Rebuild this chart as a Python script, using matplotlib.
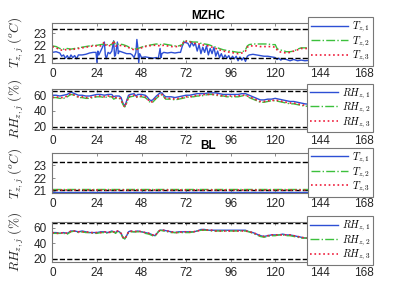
# -*- coding: utf-8 -*-
"""
Zone temperature and relative humidity over one week,
MZHC controller vs baseline (BL).
"""

import matplotlib
matplotlib.use('Agg')
import matplotlib.pyplot as plt

#%% DATA (hours from start of week)
### MZHC - zone temperatures
hours_t1 = [0, 2, 4, 5, 6, 7, 8, 9, 10, 11, 12, 13, 14, 16, 18, 20, 22, 23.5, 24, 24.5,
            25, 26, 27, 28, 28.5, 29, 30, 31, 32, 33, 33.5, 34, 35, 35.5, 36, 38, 40, 42, 43, 44,
            45, 45.5, 46, 46.5, 47, 48, 50, 52, 54, 56, 57, 58, 58.5, 59, 60, 62, 64, 66, 68, 69,
            70, 71, 72, 73, 74, 75, 76, 77, 78, 79, 80, 81, 82, 83, 84, 85, 86, 87, 88, 89,
            90, 91, 92, 93, 94, 95, 96, 97, 98, 99, 100, 101, 102, 103, 104, 105, 106, 108, 110, 112,
            114, 116, 118, 120, 121, 122, 123, 124, 126, 128, 130, 132, 134, 136, 140, 145, 150, 155, 160, 165, 168]
t1_mzhc = [21.5, 21.55, 21.45, 21.2, 21.3, 21.05, 21.25, 21.0, 21.3, 21.1, 21.25, 21.0, 21.3, 21.3, 21.35, 21.45, 21.5, 21.5, 20.7, 21.6,
           21.3, 21.6, 21.9, 22.3, 21.3, 21.0, 21.5, 21.4, 21.6, 22.4, 21.2, 21.3, 22.3, 21.4, 21.6, 21.5, 21.4, 21.4, 21.3, 21.1,
           21.5, 22.5, 21.9, 20.7, 21.4, 21.1, 21.15, 21.1, 21.05, 21.1, 21.0, 21.8, 21.1, 21.4, 21.5, 21.45, 21.5, 21.45, 21.5, 21.5,
           22.0, 22.3, 22.25, 22.2, 21.9, 22.3, 22.0, 22.2, 21.6, 22.1, 21.4, 21.9, 21.5, 22.0, 21.3, 21.8, 21.4, 21.9, 21.2, 21.6,
           21.1, 21.4, 21.0, 21.3, 21.05, 21.25, 20.95, 21.2, 21.0, 21.2, 20.85, 21.15, 20.9, 21.1, 20.8, 21.2, 21.3, 21.35, 21.3, 21.25,
           21.2, 21.2, 21.15, 21.1, 20.95, 21.05, 20.9, 21.0, 20.95, 20.85, 20.95, 20.85, 20.9, 20.85, 20.9, 20.8, 20.85, 20.8, 20.9, 20.85, 20.9]

hours_t23 = [0, 2, 4, 6, 8, 10, 12, 14, 16, 18, 20, 22, 24, 26, 28, 29, 30, 32, 33, 34,
             36, 38, 40, 42, 44, 46, 48, 50, 52, 54, 56, 58, 60, 62, 64, 66, 68, 70, 71, 72,
             74, 76, 78, 80, 82, 84, 86, 88, 90, 92, 94, 96, 98, 100, 102, 104, 105, 106, 108, 110,
             112, 114, 116, 118, 120, 121, 122, 124, 126, 128, 130, 132, 134, 136, 140, 150, 160, 168]
t2_mzhc = [22.0, 21.95, 21.8, 21.75, 21.8, 21.75, 21.8, 21.85, 21.9, 21.95, 22.0, 22.05, 22.05, 22.1, 22.15, 22.1, 22.1, 22.1, 22.35, 22.1,
           22.15, 22.1, 22.0, 21.85, 21.75, 21.8, 21.9, 22.0, 22.05, 22.1, 22.15, 22.1, 22.15, 22.1, 22.05, 22.0, 22.0, 22.1, 22.45, 22.4,
           22.35, 22.3, 22.3, 22.2, 22.15, 22.1, 22.0, 21.9, 21.8, 21.7, 21.65, 21.6, 21.55, 21.5, 21.5, 21.7, 22.0, 22.1, 22.15, 22.15,
           22.15, 22.15, 22.15, 22.1, 22.1, 21.8, 21.7, 21.65, 21.55, 21.55, 21.6, 21.75, 21.85, 21.85, 21.85, 21.8, 21.8, 21.8]
t3_mzhc = [21.95, 21.85, 21.7, 21.65, 21.75, 21.7, 21.75, 21.8, 21.85, 21.9, 21.95, 22.0, 22.0, 22.0, 22.3, 22.0, 22.0, 22.05, 22.4, 22.0,
           22.05, 22.0, 21.95, 21.8, 21.7, 21.75, 21.85, 21.95, 22.0, 22.05, 22.05, 22.0, 22.05, 22.0, 21.95, 21.95, 21.95, 22.05, 22.4, 22.35,
           22.3, 22.2, 22.2, 22.1, 22.05, 22.0, 21.9, 21.8, 21.7, 21.6, 21.55, 21.5, 21.45, 21.4, 21.45, 21.6, 21.9, 22.0, 22.0, 22.0,
           21.95, 21.95, 21.95, 21.95, 21.9, 21.7, 21.55, 21.5, 21.45, 21.5, 21.6, 21.7, 21.8, 21.8, 21.8, 21.75, 21.75, 21.75]

### MZHC - relative humidity
hours_rh = [0, 2, 4, 6, 8, 10, 12, 14, 16, 18, 20, 22, 24, 26, 28, 30, 32, 33, 34, 36,
            37, 38, 39, 40, 41, 42, 44, 45, 46, 48, 50, 51, 52, 53, 54, 56, 58, 59, 60, 61,
            62, 64, 66, 68, 70, 72, 74, 76, 78, 80, 82, 84, 86, 88, 90, 92, 94, 96, 98, 100,
            102, 104, 106, 108, 110, 112, 114, 116, 118, 120, 122, 124, 126, 128, 130, 132, 134, 136, 140, 150,
            160, 168]
rh1_mzhc = [60, 60, 59, 60, 61, 64, 62, 60, 60, 59, 59, 60, 61, 61, 60, 61, 61, 58, 59, 59,
            57, 50, 46, 53, 60, 61, 62, 59, 61, 61, 60, 58, 55, 53, 54, 59, 63, 63, 60, 58,
            58, 58, 57, 58, 59, 60, 60, 61, 62, 62, 62, 63, 63, 63, 62, 61, 61, 61, 61, 61,
            62, 62, 60, 58, 56, 54, 54, 55, 55, 56, 55, 54, 53, 52, 52, 51, 50, 49, 48, 48,
            47, 47]
rh2_mzhc = [57, 57, 56, 56, 58, 61, 60, 57, 57, 56, 56, 57, 58, 58, 57, 58, 58, 55, 56, 56,
            54, 48, 45, 50, 57, 58, 59, 57, 58, 58, 57, 55, 52, 51, 51, 56, 60, 61, 58, 55,
            55, 55, 54, 55, 56, 57, 58, 58, 59, 59, 60, 61, 61, 60, 59, 59, 58, 58, 58, 58,
            59, 60, 57, 55, 53, 51, 51, 52, 53, 53, 52, 51, 50, 49, 49, 48, 47, 46, 46, 45,
            45, 45]
rh3_mzhc = [57, 58, 57, 57, 59, 62, 60, 58, 58, 57, 57, 58, 59, 59, 58, 59, 59, 56, 57, 57,
            55, 48, 45, 51, 58, 59, 60, 57, 59, 59, 58, 56, 53, 51, 52, 57, 61, 61, 58, 56,
            56, 56, 55, 56, 57, 58, 58, 59, 60, 60, 61, 61, 61, 61, 60, 59, 59, 59, 59, 59,
            60, 60, 58, 56, 54, 52, 52, 53, 53, 54, 53, 52, 51, 50, 50, 49, 48, 47, 46, 46,
            45, 45]

### BL - zone temperatures (flat)
hours_bl_t = [0, 168]
t1_bl = [20.93, 20.93]
t2_bl = [21.12, 21.12]
t3_bl = [21.07, 21.07]

### BL - relative humidity
hours_bl_rh = [0, 2, 4, 6, 8, 10, 12, 14, 16, 18, 20, 22, 24, 26, 28, 30, 32, 33, 34, 35,
               36, 37, 38, 39, 40, 41, 42, 44, 46, 48, 50, 52, 54, 55, 56, 57, 58, 60, 62, 64,
               66, 68, 70, 72, 74, 76, 78, 80, 82, 84, 86, 88, 90, 92, 94, 96, 98, 100, 102, 104,
               106, 108, 110, 112, 114, 116, 118, 120, 122, 124, 126, 128, 130, 132, 134, 136, 140, 150, 160, 168]
rh1_bl = [54, 54, 53, 54, 53, 56, 56, 55, 56, 55, 54, 54, 54, 55, 55, 54, 56, 55, 54, 56,
          55, 53, 48, 46, 50, 55, 56, 55, 56, 55, 54, 53, 51, 50, 52, 55, 57, 57, 56, 55,
          54, 55, 55, 55, 55, 55, 56, 58, 58, 57, 57, 57, 57, 57, 57, 57, 57, 57, 57, 57,
          55, 54, 52, 50, 49, 50, 51, 51, 51, 52, 51, 51, 50, 49, 48, 47, 47, 46, 46, 46]
rh2_bl = [53, 53, 53, 53, 52, 55, 56, 54, 55, 54, 54, 53, 53, 54, 54, 53, 55, 55, 53, 55,
          55, 52, 47, 46, 50, 54, 55, 55, 55, 55, 53, 52, 50, 49, 51, 55, 57, 56, 55, 54,
          54, 54, 54, 54, 54, 55, 56, 57, 57, 57, 56, 56, 56, 56, 56, 56, 56, 56, 56, 56,
          55, 53, 51, 49, 48, 49, 50, 50, 51, 51, 50, 50, 49, 48, 47, 47, 46, 46, 45, 45]
rh3_bl = [54, 53, 53, 54, 53, 56, 56, 55, 55, 55, 54, 54, 54, 54, 55, 54, 55, 55, 54, 56,
          55, 53, 48, 46, 50, 55, 56, 55, 56, 55, 54, 53, 51, 50, 52, 55, 57, 57, 56, 55,
          54, 54, 55, 55, 55, 55, 56, 57, 58, 57, 57, 56, 56, 56, 56, 56, 56, 56, 56, 56,
          55, 54, 52, 50, 49, 50, 51, 51, 51, 51, 51, 51, 50, 49, 48, 47, 47, 46, 46, 46]

### comfort limits and axis ranges
t_low, t_high = 21.1, 23.3
rh_low, rh_high = 20, 66
week_ticks = [0, 24, 48, 72, 96, 120, 144, 168]

#%% STYLE
plt.rcParams['font.family'] = ['Liberation Sans', 'DejaVu Sans']
plt.rcParams['mathtext.fontset'] = 'cm'
c_blue = '#2d4fd4'
c_green = '#3cc03c'
c_red = '#ee1c3a'
c_text = '#262626'
c_frame = '#777777'


def style_axis(ax, ylim, yticks, ylabel):
    ax.set_xlim(0, 168)
    ax.set_ylim(ylim)
    ax.set_xticks(week_ticks)
    ax.set_yticks(yticks)
    ax.tick_params(direction='in', length=2.5, width=0.6, top=True, right=True,
                   labelsize=8.5, colors=c_frame, labelcolor=c_text, pad=4)
    for sp in ax.spines.values():
        sp.set_color(c_frame)
        sp.set_linewidth(0.8)
    ax.set_ylabel(ylabel, fontsize=9.5, color=c_text)
    ax.yaxis.set_label_coords(-0.085, 0.5)


def add_legend(ax, labels, hlen):
    leg = ax.legend(labels, loc='upper right', bbox_to_anchor=(1.028, 1.13),
                    borderaxespad=0, fancybox=False, framealpha=1, fontsize=7.5,
                    handlelength=hlen, handletextpad=0.4, labelspacing=0.02,
                    borderpad=0.25)
    leg.get_frame().set_edgecolor(c_frame)
    leg.get_frame().set_linewidth(0.8)
    return leg


fig = plt.figure(figsize=(4.03, 3.02), dpi=100)
ax1 = fig.add_axes([0.130, 0.7924, 0.774, 0.1325])
ax2 = fig.add_axes([0.130, 0.5720, 0.774, 0.1334])
ax3 = fig.add_axes([0.130, 0.3620, 0.774, 0.1300])
ax4 = fig.add_axes([0.130, 0.1334, 0.774, 0.1325])

#%% MZHC temperature
ax1.plot(hours_t1, t1_mzhc, '-', color=c_blue, lw=1.0)
ax1.plot(hours_t23, t2_mzhc, '-.', color=c_green, lw=1.0)
ax1.plot(hours_t23, t3_mzhc, ':', color=c_red, lw=1.2)
ax1.axhline(t_low, color='k', ls='--', lw=1.0)
ax1.axhline(t_high, color='k', ls='--', lw=1.0)
style_axis(ax1, (20.7, 23.8), [21, 22, 23], r'$T_{z,j}\ (^oC)$')
add_legend(ax1, [r'$T_{z,1}$', r'$T_{z,2}$', r'$T_{z,3}$'], 3.6)
ax1.set_title('MZHC', fontsize=8.5, fontweight='bold', pad=3)

#%% MZHC humidity
ax2.plot(hours_rh, rh1_mzhc, '-', color=c_blue, lw=1.0)
ax2.plot(hours_rh, rh2_mzhc, '-.', color=c_green, lw=1.0)
ax2.plot(hours_rh, rh3_mzhc, ':', color=c_red, lw=1.2)
ax2.axhline(rh_low, color='k', ls='--', lw=1.0)
ax2.axhline(rh_high, color='k', ls='--', lw=1.0)
style_axis(ax2, (16.5, 68), [20, 40, 60], r'$RH_{z,j}\ (\%)$')
add_legend(ax2, [r'$RH_{z,1}$', r'$RH_{z,2}$', r'$RH_{z,3}$'], 2.7)

#%% BL temperature
ax3.plot(hours_bl_t, t1_bl, '-', color=c_blue, lw=1.0)
ax3.plot(hours_bl_t, t2_bl, '-.', color=c_green, lw=1.0)
ax3.plot(hours_bl_t, t3_bl, ':', color=c_red, lw=1.2)
ax3.axhline(t_low, color='k', ls='--', lw=1.0, zorder=1)
ax3.axhline(t_high, color='k', ls='--', lw=1.0)
style_axis(ax3, (20.85, 23.95), [21, 22, 23], r'$T_{z,j}\ (^oC)$')
add_legend(ax3, [r'$T_{z,1}$', r'$T_{z,2}$', r'$T_{z,3}$'], 3.6)
ax3.set_title('BL', fontsize=8.5, fontweight='bold', pad=3)

#%% BL humidity
ax4.plot(hours_bl_rh, rh1_bl, '-', color=c_blue, lw=1.0)
ax4.plot(hours_bl_rh, rh2_bl, '-.', color=c_green, lw=1.0)
ax4.plot(hours_bl_rh, rh3_bl, ':', color=c_red, lw=1.2)
ax4.axhline(rh_low, color='k', ls='--', lw=1.0)
ax4.axhline(rh_high, color='k', ls='--', lw=1.0)
style_axis(ax4, (16.5, 68), [20, 40, 60], r'$RH_{z,j}\ (\%)$')
add_legend(ax4, [r'$RH_{z,1}$', r'$RH_{z,2}$', r'$RH_{z,3}$'], 2.7)

fig.savefig('out.png', dpi=100)
